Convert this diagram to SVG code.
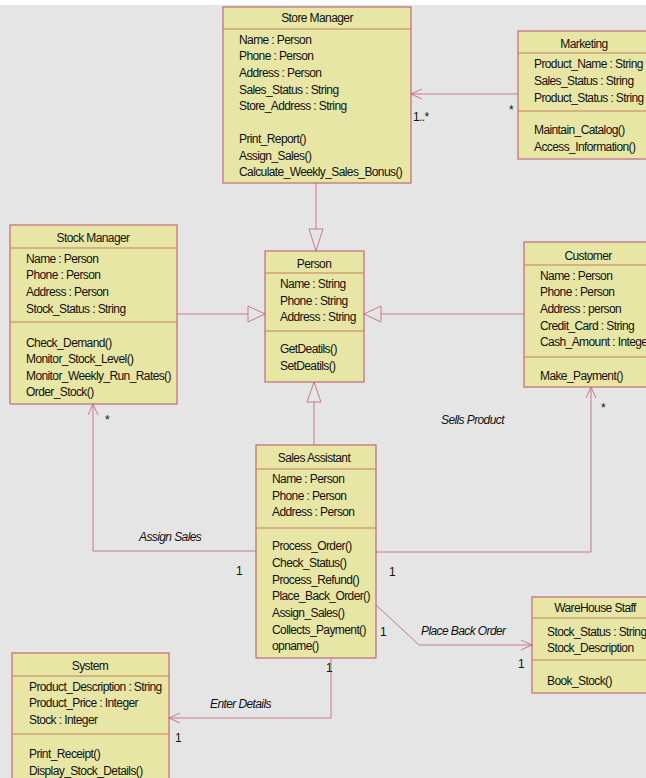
<svg xmlns="http://www.w3.org/2000/svg" width="646" height="778" viewBox="0 0 646 778">
<defs>
<style>
.bg{fill:#e5e5e5}
.box{fill:#e8e6a4;stroke:#b8506a;stroke-width:1}
.sep{stroke:#c47c62;stroke-width:1}
.t{font-family:"Liberation Sans",Arial,sans-serif;font-size:12px;fill:#111;letter-spacing:-0.6px}
.c{text-anchor:middle}
.i{font-style:italic}
.ln{fill:none;stroke:#c8788c;stroke-width:1}
.tri{fill:#e5e5e5;stroke:#c8788c;stroke-width:1}
</style>
<marker id="open" viewBox="0 0 12 12" refX="11" refY="6" markerWidth="12" markerHeight="12" orient="auto" markerUnits="userSpaceOnUse">
<path d="M0,1 L11,6 L0,11" fill="none" stroke="#c8788c" stroke-width="1"/>
</marker>
</defs>
<rect class="bg" x="0" y="0" width="646" height="778"/>
<rect x="0" y="0" width="646" height="5" fill="#ffffff"/>

<g id="connectors">
<line class="ln" x1="316" y1="183" x2="316" y2="229"/>
<polygon class="tri" points="309,229 323,229 316,251"/>
<line class="ln" x1="177" y1="314" x2="248" y2="314"/>
<polygon class="tri" points="248,306 248,322 265,314"/>
<line class="ln" x1="524" y1="314" x2="381" y2="314"/>
<polygon class="tri" points="381,306 381,322 364,314"/>
<line class="ln" x1="314" y1="445" x2="314" y2="402"/>
<polygon class="tri" points="307,402 321,402 314,382"/>
<line class="ln" x1="518" y1="94" x2="411" y2="94" marker-end="url(#open)"/>
<polyline class="ln" points="256,551 93,551 93,404" marker-end="url(#open)"/>
<polyline class="ln" points="376,552 591,552 591,387" marker-end="url(#open)"/>
<polyline class="ln" points="376,605 419,645 532,645" marker-end="url(#open)"/>
<polyline class="ln" points="331,658 331,718 169,718" marker-end="url(#open)"/>
<text class="t" x="413" y="121">1..*</text>
<text class="t" x="509" y="114">*</text>
<text class="t" x="105" y="424">*</text>
<text class="t i" x="139" y="541">Assign Sales</text>
<text class="t" x="236" y="575">1</text>
<text class="t i" x="441" y="424">Sells Product</text>
<text class="t" x="601" y="412">*</text>
<text class="t" x="389" y="576">1</text>
<text class="t i" x="421" y="635">Place Back Order</text>
<text class="t" x="380" y="636">1</text>
<text class="t" x="518" y="668">1</text>
<text class="t i" x="210" y="708">Enter Details</text>
<text class="t" x="326" y="672">1</text>
<text class="t" x="175" y="742">1</text>
</g>

<g id="store-manager">
<rect class="box" x="223" y="7" width="188" height="176"/>
<line class="sep" x1="223" y1="29" x2="411" y2="29"/>
<text class="t c" x="317" y="22">Store Manager</text>
<text class="t" x="239" y="44">Name : Person</text>
<text class="t" x="239" y="60">Phone : Person</text>
<text class="t" x="239" y="77">Address : Person</text>
<text class="t" x="239" y="94">Sales_Status : String</text>
<text class="t" x="239" y="110">Store_Address : String</text>
<text class="t" x="239" y="143">Print_Report()</text>
<text class="t" x="239" y="160">Assign_Sales()</text>
<text class="t" x="239" y="176">Calculate_Weekly_Sales_Bonus()</text>
</g>

<g id="marketing">
<rect class="box" x="518" y="31" width="140" height="128"/>
<line class="sep" x1="518" y1="53" x2="658" y2="53"/>
<line class="sep" x1="518" y1="111" x2="658" y2="111"/>
<text class="t c" x="584" y="48">Marketing</text>
<text class="t" x="534" y="68">Product_Name : String</text>
<text class="t" x="534" y="85">Sales_Status : String</text>
<text class="t" x="534" y="102">Product_Status : String</text>
<text class="t" x="534" y="134">Maintain_Catalog()</text>
<text class="t" x="534" y="151">Access_Information()</text>
</g>

<g id="stock-manager">
<rect class="box" x="10" y="225" width="167" height="179"/>
<line class="sep" x1="10" y1="248" x2="177" y2="248"/>
<line class="sep" x1="10" y1="322" x2="177" y2="322"/>
<text class="t c" x="93" y="242">Stock Manager</text>
<text class="t" x="26" y="263">Name : Person</text>
<text class="t" x="26" y="279">Phone : Person</text>
<text class="t" x="26" y="296">Address : Person</text>
<text class="t" x="26" y="313">Stock_Status : String</text>
<text class="t" x="26" y="347">Check_Demand()</text>
<text class="t" x="26" y="363">Monitor_Stock_Level()</text>
<text class="t" x="26" y="380">Monitor_Weekly_Run_Rates()</text>
<text class="t" x="26" y="396">Order_Stock()</text>
</g>

<g id="person">
<rect class="box" x="265" y="251" width="99" height="131"/>
<line class="sep" x1="265" y1="273" x2="364" y2="273"/>
<line class="sep" x1="265" y1="331" x2="364" y2="331"/>
<text class="t c" x="314" y="268">Person</text>
<text class="t" x="280" y="288">Name : String</text>
<text class="t" x="280" y="305">Phone : String</text>
<text class="t" x="280" y="321">Address : String</text>
<text class="t" x="280" y="353">GetDeatils()</text>
<text class="t" x="280" y="370">SetDeatils()</text>
</g>

<g id="customer">
<rect class="box" x="524" y="242" width="134" height="145"/>
<line class="sep" x1="524" y1="265" x2="658" y2="265"/>
<line class="sep" x1="524" y1="357" x2="658" y2="357"/>
<text class="t c" x="588" y="260">Customer</text>
<text class="t" x="540" y="280">Name : Person</text>
<text class="t" x="540" y="296">Phone : Person</text>
<text class="t" x="540" y="313">Address : person</text>
<text class="t" x="540" y="330">Credit_Card : String</text>
<text class="t" x="540" y="346">Cash_Amount : Integer</text>
<text class="t" x="540" y="380">Make_Payment()</text>
</g>

<g id="sales-assistant">
<rect class="box" x="256" y="445" width="120" height="213"/>
<line class="sep" x1="256" y1="469" x2="376" y2="469"/>
<line class="sep" x1="256" y1="528" x2="376" y2="528"/>
<text class="t c" x="314" y="462">Sales Assistant</text>
<text class="t" x="272" y="483">Name : Person</text>
<text class="t" x="272" y="500">Phone : Person</text>
<text class="t" x="272" y="516">Address : Person</text>
<text class="t" x="272" y="550">Process_Order()</text>
<text class="t" x="272" y="567">Check_Status()</text>
<text class="t" x="272" y="584">Process_Refund()</text>
<text class="t" x="272" y="600">Place_Back_Order()</text>
<text class="t" x="272" y="617">Assign_Sales()</text>
<text class="t" x="272" y="634">Collects_Payment()</text>
<text class="t" x="272" y="650">opname()</text>
</g>

<g id="system">
<rect class="box" x="12" y="653" width="157" height="140"/>
<line class="sep" x1="12" y1="676" x2="169" y2="676"/>
<line class="sep" x1="12" y1="734" x2="169" y2="734"/>
<text class="t c" x="90" y="670">System</text>
<text class="t" x="29" y="691">Product_Description : String</text>
<text class="t" x="29" y="707">Product_Price : Integer</text>
<text class="t" x="29" y="724">Stock : Integer</text>
<text class="t" x="29" y="758">Print_Receipt()</text>
<text class="t" x="29" y="775">Display_Stock_Details()</text>
</g>

<g id="warehouse-staff">
<rect class="box" x="532" y="597" width="126" height="96"/>
<line class="sep" x1="532" y1="618" x2="658" y2="618"/>
<line class="sep" x1="532" y1="660" x2="658" y2="660"/>
<text class="t c" x="595" y="612">WareHouse Staff</text>
<text class="t" x="547" y="636">Stock_Status : String</text>
<text class="t" x="547" y="652">Stock_Description</text>
<text class="t" x="547" y="685">Book_Stock()</text>
</g>
</svg>
